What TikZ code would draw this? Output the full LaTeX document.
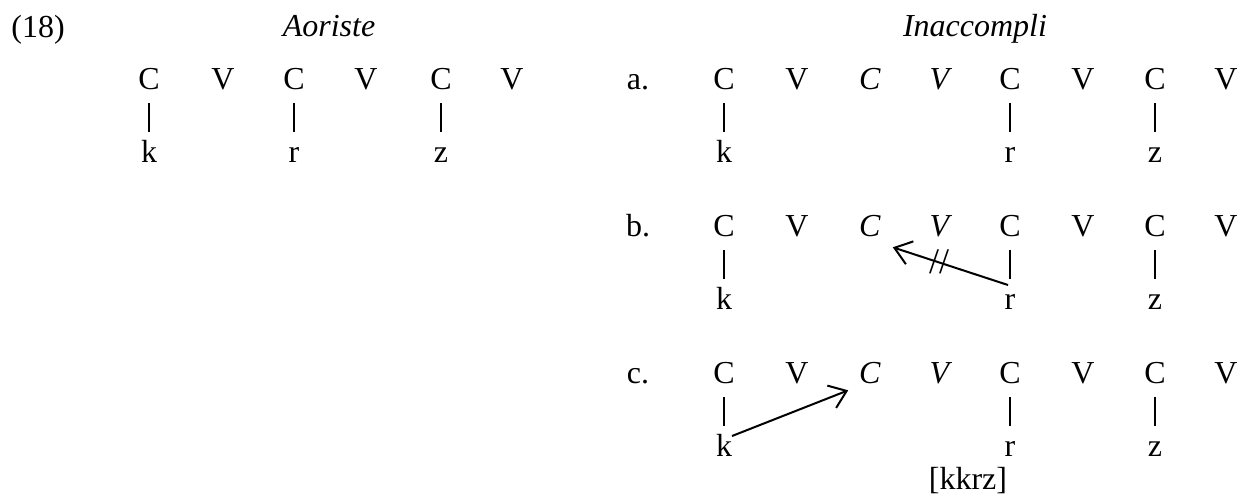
\documentclass[tikz,border=0pt]{standalone}
\usepackage{fontspec}
\setmainfont{Liberation Serif}
\usetikzlibrary{arrows.meta}
\begin{document}
\begin{tikzpicture}[x=0.5pt,y=-0.5pt,
  every node/.style={inner sep=0pt, outer sep=0pt, font=\fontsize{16}{19}\selectfont},
  seg/.style={anchor=base},
  low/.style={anchor=base, text height=11pt, text depth=0pt},
  bar/.style={line width=0.6pt, shorten <=7pt, shorten >=4pt},
  mv/.style={line width=1pt, -{Straight Barb[length=8pt,width=12pt]}}]
\useasboundingbox (0,0) rectangle (1248,495);
% headings
\node[seg] (num) at (38,37) {(18)};
\node[seg] (tA) at (329,36) {\itshape Aoriste};
\node[seg] (tI) at (975,36) {\itshape Inaccompli};
% Aoriste
\foreach \x/\t [count=\i] in {149/C,223/V,294/C,366/V,441/C,512/V}
  \node[seg] (ao\i) at (\x,89) {\t};
\node[low] (ao-k) at (149,162) {k};
\node[low] (ao-r) at (294,162) {r};
\node[low] (ao-z) at (441,162) {z};
\draw[bar] (ao1.south) -- (ao-k.north);
\draw[bar] (ao3.south) -- (ao-r.north);
\draw[bar] (ao5.south) -- (ao-z.north);
% Inaccompli
\foreach \row/\y in {a/89,b/236,c/383} {
  \node[seg] (\row0) at (638,\y) {\row.};
  \foreach \x/\t [count=\i] in {724/{C},797/{V},870/{\textit{C}},941/{\textit{V}},1010/{C},1083/{V},1155/{C},1226/{V}}
    \node[seg] (\row\i) at (\x,\y) {\t};
  \node[low] (\row-k) at (724,\y+73) {k};
  \node[low] (\row-r) at (1010,\y+73) {r};
  \node[low] (\row-z) at (1155,\y+73) {z};
  \draw[bar] (\row1.south) -- (\row-k.north);
  \draw[bar] (\row5.south) -- (\row-r.north);
  \draw[bar] (\row7.south) -- (\row-z.north);
}
% arrows
\draw[mv] ([shift={(-2,-2)}]b-r.north) -- ([shift={(12,11)}]b3.south east);
\node[font=\fontsize{18}{20}\selectfont] (cut) at (939,262) {//};
\draw[mv] ([shift={(0,2)}]c-k.north east) -- ([shift={(-11,7)}]c3.south west);
\node[seg] (kkrz) at (968,489) {[kkrz]};
\end{tikzpicture}
\end{document}
